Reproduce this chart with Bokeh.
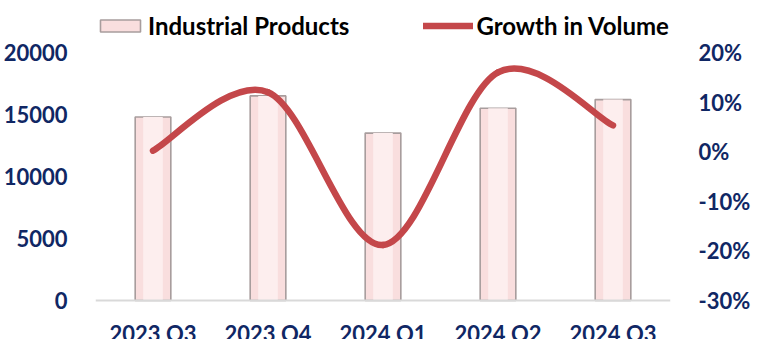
from bokeh.plotting import figure
from bokeh.models import (Range1d, LinearAxis, FixedTicker, NumeralTickFormatter,
                          Legend, LegendItem, ColumnDataSource, Span)
from bokeh.embed import file_html
from bokeh.resources import INLINE

# ---- data ----
quarters = ["2023 Q3", "2023 Q4", "2024 Q1", "2024 Q2", "2024 Q3"]
industrial_products = [14800, 16500, 13500, 15500, 16200]
growth_in_volume = [0.002, 0.12, -0.188, 0.16, 0.053]
left_ticks = [0, 5000, 10000, 15000, 20000]
right_ticks = [-0.3, -0.2, -0.1, 0.0, 0.1, 0.2]

FONT = "Lato"
NAVY = "#102764"
RED = "#C4474A"

# layout: value area is 248 px tall, 52 px above it for the legend, 39 px below for labels
AREA_PX = 248
ABOVE_PX = 52
BELOW_PX = 39
L_MIN, L_MAX = 0, 20000
R_MIN, R_MAX = -0.3, 0.2
lpp = (L_MAX - L_MIN) / AREA_PX
rpp = (R_MAX - R_MIN) / AREA_PX

xs = [i + 0.5 for i in range(len(quarters))]

p = figure(width=759, height=339, output_backend="svg", toolbar_location=None,
           x_range=Range1d(0, len(quarters)),
           y_range=Range1d(L_MIN - BELOW_PX * lpp, L_MAX + ABOVE_PX * lpp),
           min_border_left=95, min_border_right=89, min_border_top=0,
           min_border_bottom=0)
p.outline_line_color = None
p.grid.visible = False
p.xaxis.visible = False
p.extra_y_ranges = {"pct": Range1d(R_MIN - BELOW_PX * rpp, R_MAX + ABOVE_PX * rpp)}

bars = p.vbar(x=xs, top=industrial_products, width=0.31, bottom=0,
              fill_color="#F9DEDE", line_color="#A89D9D", line_width=1.6)
# soft highlight inside each bar
p.vbar(x=xs, top=industrial_products, width=0.17, bottom=0,
       fill_color="#FDEEEE", line_color=None)

p.add_layout(Span(location=0, dimension="width", line_color="#D9D9D9", line_width=2))

# category labels under the baseline
p.text(x=xs, y=[0] * len(xs), text=quarters, y_offset=19,
       text_align="center", text_baseline="top",
       text_font={"value": FONT}, text_font_style="bold",
       text_font_size="22px", text_color=NAVY)

# smoothed line (Catmull-Rom style Bezier between data points)
n = len(xs)
x0, y0, x1, y1, cx0, cy0, cx1, cy1 = [], [], [], [], [], [], [], []
for i in range(n - 1):
    pm = max(i - 1, 0)
    pp = min(i + 2, n - 1)
    x0.append(xs[i]); y0.append(growth_in_volume[i])
    x1.append(xs[i + 1]); y1.append(growth_in_volume[i + 1])
    cx0.append(xs[i] + (xs[i + 1] - xs[pm]) / 6)
    cy0.append(growth_in_volume[i] + (growth_in_volume[i + 1] - growth_in_volume[pm]) / 6)
    cx1.append(xs[i + 1] - (xs[pp] - xs[i]) / 6)
    cy1.append(growth_in_volume[i + 1] - (growth_in_volume[pp] - growth_in_volume[i]) / 6)
src = ColumnDataSource(dict(x0=x0, y0=y0, x1=x1, y1=y1, cx0=cx0, cy0=cy0, cx1=cx1, cy1=cy1))
curve = p.bezier(x0="x0", y0="y0", x1="x1", y1="y1", cx0="cx0", cy0="cy0",
                 cx1="cx1", cy1="cy1", source=src, y_range_name="pct",
                 line_color=RED, line_width=6.5, line_cap="round")

# axes
ya = p.yaxis[0]
ya.ticker = FixedTicker(ticks=left_ticks)
ya.axis_line_color = None
ya.major_tick_line_color = None
ya.minor_tick_line_color = None
ya.major_label_standoff = 22

ra = LinearAxis(y_range_name="pct", ticker=FixedTicker(ticks=right_ticks),
                formatter=NumeralTickFormatter(format="0%"))
ra.axis_line_color = None
ra.major_tick_line_color = None
ra.minor_tick_line_color = None
ra.major_label_standoff = 22
p.add_layout(ra, "right")

for ax in (ya, ra):
    ax.major_label_text_font = FONT
    ax.major_label_text_font_style = "bold"
    ax.major_label_text_font_size = "22px"
    ax.major_label_text_color = NAVY

legend = Legend(items=[LegendItem(label="Industrial Products", renderers=[bars]),
                       LegendItem(label="Growth in Volume", renderers=[curve])],
                orientation="horizontal", location=(0, 339 - 40),
                label_text_font=FONT, label_text_font_style="bold",
                label_text_font_size="24px", label_text_color="#000000",
                glyph_width=50, glyph_height=15, label_standoff=3, spacing=74,
                padding=0, margin=0, border_line_color=None,
                background_fill_alpha=0)
p.add_layout(legend, "center")

open("out.html", "w").write(file_html(p, INLINE))
